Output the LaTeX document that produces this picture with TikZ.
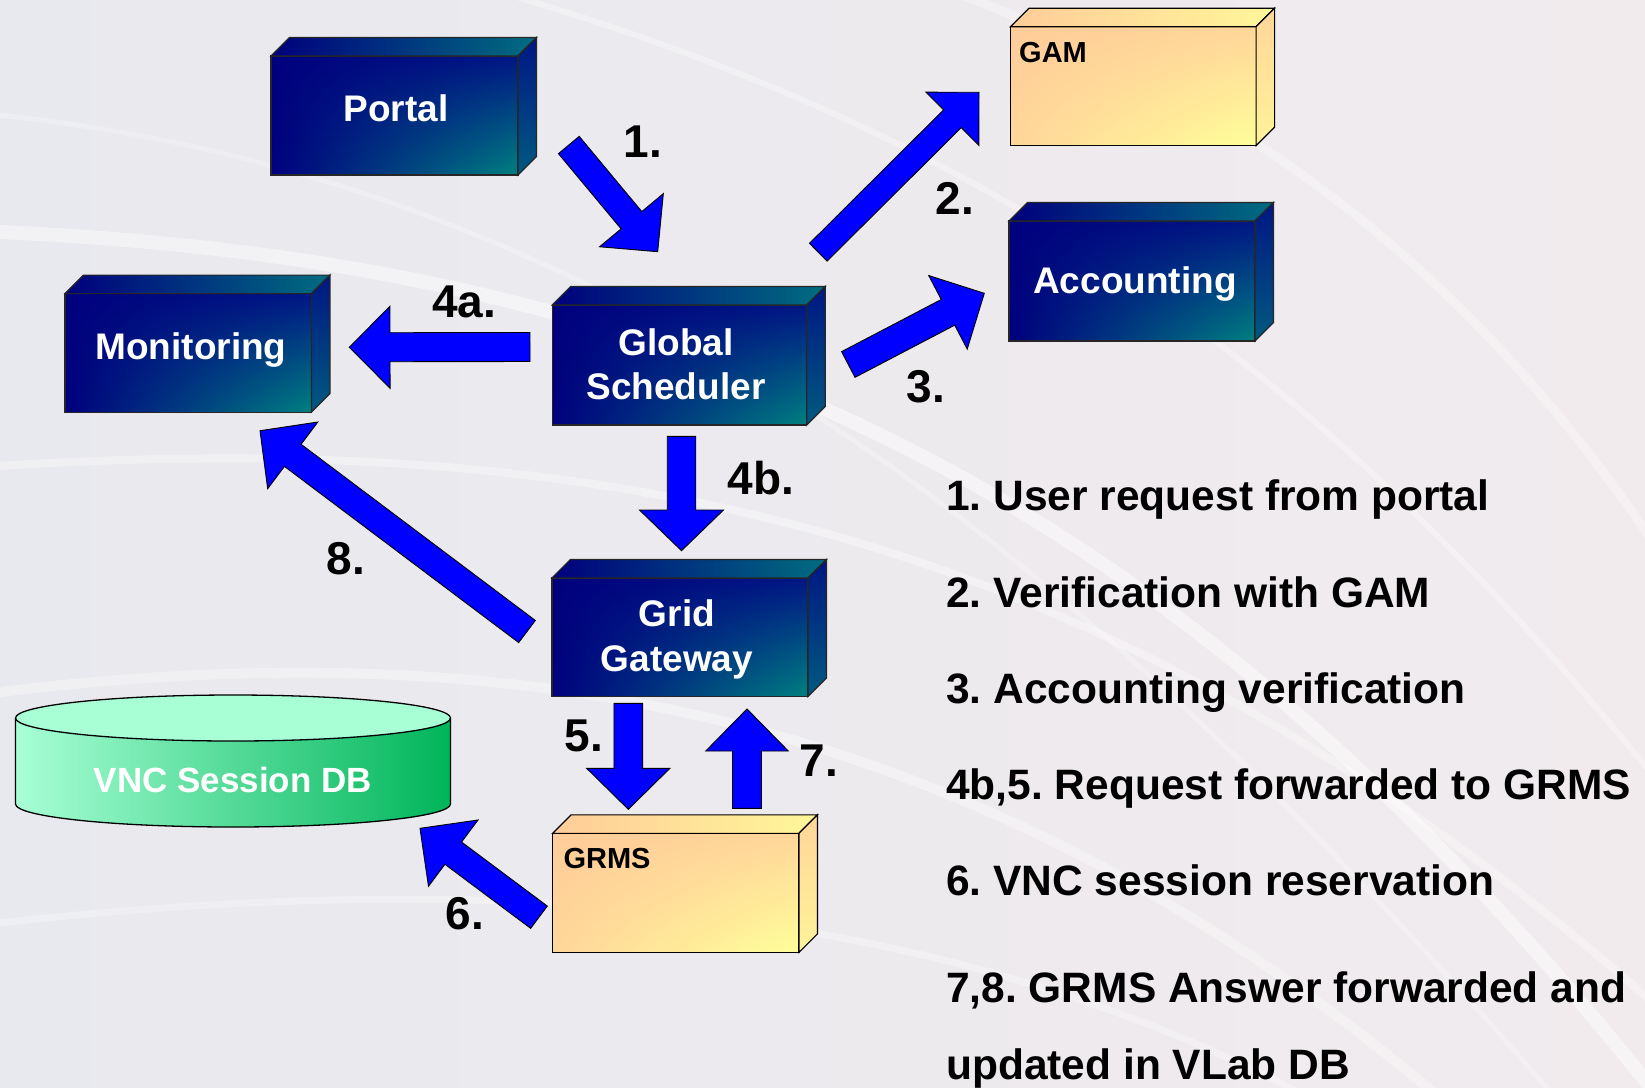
\documentclass[tikz,border=0pt]{standalone}
\usepackage{fontspec}
\setmainfont{Liberation Sans}
\usetikzlibrary{calc,shadings}
\frenchspacing
\definecolor{navyA}{RGB}{0,0,126}
\definecolor{navyB}{RGB}{0,22,132}
\definecolor{tealA}{RGB}{0,128,128}
\definecolor{orA}{RGB}{255,204,153}
\definecolor{orB}{RGB}{255,214,153}
\definecolor{orC}{RGB}{255,255,153}
\definecolor{mintA}{RGB}{168,255,214}
\definecolor{greenA}{RGB}{0,181,90}
\definecolor{arrowblue}{RGB}{0,0,255}
\definecolor{bgA}{RGB}{232,233,238}
\definecolor{bgB}{RGB}{241,235,238}
\newcommand\fsz[1]{\fontsize{#1}{#1}\selectfont}
% block arrow: tail, tip, shaft width, head width, head length
\newcommand\blockarrow[5]{%
  \coordinate (hb) at ($(#2)!#5pt!(#1)$);
  \filldraw[arrowshape]
    ($(#1)!#3pt/2!90:(#2)$) -- ($(hb)!#3pt/2!-90:(#1)$) -- ($(hb)!#4pt/2!-90:(#1)$) -- (#2)
    -- ($(hb)!#4pt/2!90:(#1)$) -- ($(hb)!#3pt/2!90:(#1)$) -- ($(#1)!#3pt/2!-90:(#2)$) -- cycle;}
% 3D faces of a box node
\newcommand\boxblue[1]{%
  \shade[left color=navyA, right color=tealA!85!navyA, draw=black!85, line width=1.1pt]
    (#1.north west) -- ++(18.5,-18.5) -- ($(#1.north east)+(18.5,-18.5)$) -- (#1.north east) -- cycle;
  \shade[top color=navyB, bottom color=tealA!70!navyA, draw=black!85, line width=1.1pt]
    (#1.north east) -- ++(18.5,-18.5) -- ($(#1.south east)+(18.5,-18.5)$) -- (#1.south east) -- cycle;}
\newcommand\boxorange[1]{%
  \shade[left color=orA, right color=orC!80!orB, draw=black, line width=1.1pt]
    (#1.north west) -- ++(18.5,-18.5) -- ($(#1.north east)+(18.5,-18.5)$) -- (#1.north east) -- cycle;
  \shade[top color=orB, bottom color=orC!70!orB, draw=black, line width=1.1pt]
    (#1.north east) -- ++(18.5,-18.5) -- ($(#1.south east)+(18.5,-18.5)$) -- (#1.south east) -- cycle;}
\tikzset{
  bluebox/.style={rectangle, inner sep=0pt, outer sep=0pt, draw=black!85, line width=1.1pt, shade,
    upper left=navyA, upper right=navyB, lower left=navyA, lower right=tealA},
  orangebox/.style={rectangle, inner sep=0pt, outer sep=0pt, draw=black, line width=1.1pt, shade,
    upper left=orA, upper right=orB, lower left=orB, lower right=orC},
  boxtext/.style={text=white, font=\fsz{37}\bfseries, anchor=base, inner sep=0pt},
  cornertext/.style={text=black, font=\fsz{29}\bfseries, anchor=base west, inner sep=0pt},
  steplabel/.style={text=black, font=\fsz{46}\bfseries, anchor=center, inner sep=0pt},
  legendtext/.style={text=black, font=\fsz{42.5}\bfseries, anchor=base west, inner sep=0pt},
  arrowshape/.style={fill=arrowblue, draw=black, line width=0.9pt, line join=miter},
  streak/.style={white, line cap=round}
}
\begin{document}
\begin{tikzpicture}[x=1pt, y=-1pt]
% background
\shade[left color=bgA, right color=bgB] (0,0) rectangle (1645,1087);
\useasboundingbox (0,0) rectangle (1645,1087);
\begin{scope}
\clip (0,0) rectangle (1645,1087);
\draw[streak, opacity=0.45, line width=14pt] (1700,1150) .. controls (1200,500) and (700,250) .. (-60,230);
\draw[streak, opacity=0.35, line width=8pt] (1650,1000) .. controls (1100,520) and (600,420) .. (-60,470);
\draw[streak, opacity=0.35, line width=10pt] (1500,1150) .. controls (1000,700) and (500,620) .. (-60,700);
\draw[streak, opacity=0.3, line width=6pt] (1750,900) .. controls (1300,300) and (900,80) .. (300,-60);
\draw[streak, opacity=0.3, line width=7pt] (1400,1150) .. controls (1000,900) and (500,860) .. (-60,930);
\draw[streak, opacity=0.3, line width=9pt] (1750,700) .. controls (1500,250) and (1200,60) .. (800,-60);
\draw[streak, opacity=0.25, line width=5pt] (1600,1150) .. controls (1150,620) and (650,160) .. (-60,110);
\end{scope}

% boxes
\node[bluebox, minimum width=247pt, minimum height=119pt] (portal) at (394.5,115.5) {};
\boxblue{portal}
\node[boxtext] (portaltxt) at (396,121.5) {Portal};

\node[orangebox, minimum width=245.5pt, minimum height=119pt] (gam) at (1133.3,86.2) {};
\boxorange{gam}
\node[cornertext] (gamtxt) at (1019,62.3) {GAM};

\node[bluebox, minimum width=254.5pt, minimum height=120pt] (gs) at (679.5,365) {};
\boxblue{gs}
\node[boxtext] (gstxt1) at (676,355) {Global};
\node[boxtext] (gstxt2) at (676,399.5) {Scheduler};

\node[bluebox, minimum width=246pt, minimum height=120pt] (acc) at (1132,281) {};
\boxblue{acc}
\node[boxtext] (acctxt) at (1135,293.5) {Accounting};

\node[bluebox, minimum width=246.5pt, minimum height=118.5pt] (mon) at (188.2,352.8) {};
\boxblue{mon}
\node[boxtext] (montxt) at (191,359) {Monitoring};

\node[bluebox, minimum width=256pt, minimum height=118.5pt] (gg) at (680,637.2) {};
\boxblue{gg}
\node[boxtext] (ggtxt1) at (677,626.5) {Grid};
\node[boxtext] (ggtxt2) at (677,671.5) {Gateway};

\node[orangebox, minimum width=246.3pt, minimum height=119pt] (grms) at (675.8,892.8) {};
\boxorange{grms}
\node[cornertext] (grmstxt) at (563.3,868.3) {GRMS};

% cylinder
\shade[left color=mintA, right color=greenA]
  (15.5,718) -- (15.5,804) arc[start angle=180, end angle=360, x radius=217.5, y radius=-23]
  -- (450.5,718) arc[start angle=0, end angle=-180, x radius=217.5, y radius=-23] -- cycle;
\fill[mintA] (233,718) ellipse[x radius=217.5, y radius=23];
\draw[black, line width=1.3pt]
  (15.5,718) -- (15.5,804) arc[start angle=180, end angle=360, x radius=217.5, y radius=-23]
  -- (450.5,718);
\draw[black, line width=1.3pt] (233,718) ellipse[x radius=217.5, y radius=23];
\node[boxtext, font=\fsz{35}\bfseries] (dbtxt) at (233,792.7) {VNC Session DB};

% arrows
\coordinate (a1s) at (568.8,145);   \coordinate (a1e) at (657.7,251.7);
\coordinate (a2s) at (818.3,252.2); \coordinate (a2e) at (979,92.3);
\coordinate (a3s) at (848.3,364.5); \coordinate (a3e) at (984.3,293.3);
\coordinate (a4as) at (530,347);    \coordinate (a4ae) at (349.3,347.3);
\coordinate (a4bs) at (681.5,436.4);\coordinate (a4be) at (681.5,550.7);
\coordinate (a5s) at (628.3,703.3); \coordinate (a5e) at (628.3,809.3);
\coordinate (a7s) at (747,808.3);   \coordinate (a7e) at (747,709);
\coordinate (a8s) at (527,631.5);   \coordinate (a8e) at (260,430.7);
\coordinate (a6s) at (539,917.2);   \coordinate (a6e) at (420,828.3);
\blockarrow{a1s}{a1e}{27}{83}{41}
\blockarrow{a2s}{a2e}{25}{75}{37.5}
\blockarrow{a3s}{a3e}{29}{83}{41}
\blockarrow{a4as}{a4ae}{29}{82}{40.7}
\blockarrow{a4bs}{a4be}{28.5}{84}{40.7}
\blockarrow{a5s}{a5e}{28.7}{83.3}{41}
\blockarrow{a7s}{a7e}{29}{82.6}{42}
\blockarrow{a8s}{a8e}{27.7}{83.4}{41}
\blockarrow{a6s}{a6e}{27.8}{82.8}{41.5}

% step labels
\node[steplabel] (l1) at (643,142) {1.};
\node[steplabel] (l2) at (955,198) {2.};
\node[steplabel] (l3) at (926,387) {3.};
\node[steplabel] (l4a) at (464,302) {4a.};
\node[steplabel] (l4b) at (761,478) {4b.};
\node[steplabel] (l5) at (584,736) {5.};
\node[steplabel] (l7) at (819,761) {7.};
\node[steplabel] (l8) at (346,559) {8.};
\node[steplabel] (l6) at (465,914) {6.};

% legend
\node[legendtext] (t1) at (946,510) {1. User request from portal};
\node[legendtext] (t2) at (946,607) {2. Verification with GAM};
\node[legendtext] (t3) at (946,703) {3. Accounting verification};
\node[legendtext] (t4) at (946,799) {4b,5. Request forwarded to GRMS};
\node[legendtext] (t5) at (946,895) {6. VNC session reservation};
\node[legendtext] (t6) at (946,1002) {7,8. GRMS Answer forwarded and};
\node[legendtext] (t7) at (946,1079) {updated in VLab DB};
\end{tikzpicture}
\end{document}
